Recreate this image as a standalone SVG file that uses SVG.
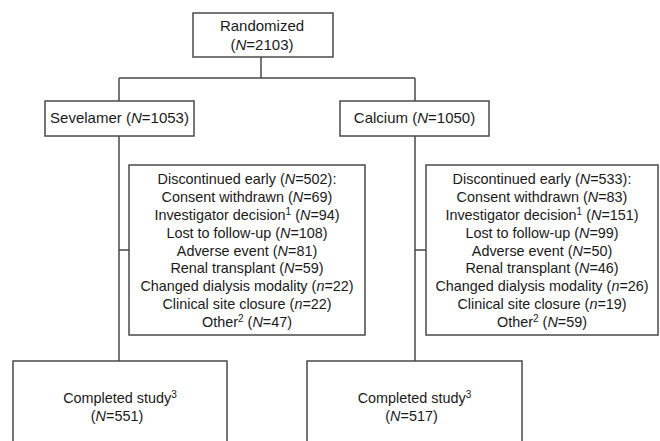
<svg xmlns="http://www.w3.org/2000/svg" width="660" height="441" viewBox="0 0 660 441">
<style>
.box{fill:#fff;stroke:#4a4a4a;stroke-width:1.5}
.ln{fill:none;stroke:#4a4a4a;stroke-width:1.5}
text{font-family:"Liberation Sans",Arial,sans-serif;font-size:14.4px;fill:#1a1a1a;text-anchor:middle}
.h{font-size:15px}
.i{font-style:italic}
.sup{font-size:10px}
</style>
<rect width="660" height="441" fill="#fff"/>
<g id="connectors">
<path class="ln" d="M261 57V78M119 78H415M119 78V101M415 78V101"/>
<path class="ln" d="M119 136V361M119 250H129"/>
<path class="ln" d="M415 136V361M415 250H426"/>
</g>
<g id="randomized">
<rect class="box" x="193" y="13" width="140" height="44"/>
<text class="h" x="262" y="31">Randomized</text>
<text class="h" x="262" y="50">(<tspan class="i">N</tspan>=2103)</text>
</g>
<g id="sevelamer">
<rect class="box" x="45" y="101" width="149" height="35"/>
<text class="h" x="119.5" y="123">Sevelamer (<tspan class="i">N</tspan>=1053)</text>
</g>
<g id="calcium">
<rect class="box" x="340" y="101" width="149" height="35"/>
<text class="h" x="414.5" y="123">Calcium (<tspan class="i">N</tspan>=1050)</text>
</g>
<g id="disc-sevelamer">
<rect class="box" x="129" y="165" width="236" height="170"/>
<text x="247" y="184.3">Discontinued early (<tspan class="i">N</tspan>=502):</text>
<text x="247" y="202.1">Consent withdrawn  (<tspan class="i">N</tspan>=69)</text>
<text x="247" y="219.9">Investigator decision<tspan class="sup" dy="-5">1</tspan><tspan dy="5"> (</tspan><tspan class="i">N</tspan>=94)</text>
<text x="247" y="237.7">Lost to follow-up (<tspan class="i">N</tspan>=108)</text>
<text x="247" y="255.5">Adverse event (<tspan class="i">N</tspan>=81)</text>
<text x="247" y="273.3">Renal transplant (<tspan class="i">N</tspan>=59)</text>
<text x="247" y="291.1">Changed dialysis modality (<tspan class="i">n</tspan>=22)</text>
<text x="247" y="308.9">Clinical site closure (<tspan class="i">n</tspan>=22)</text>
<text x="247" y="326.7">Other<tspan class="sup" dy="-5">2</tspan><tspan dy="5"> (</tspan><tspan class="i">N</tspan>=47)</text>
</g>
<g id="disc-calcium">
<rect class="box" x="426" y="165" width="232" height="170"/>
<text x="542" y="184.3">Discontinued early (<tspan class="i">N</tspan>=533):</text>
<text x="542" y="202.1">Consent withdrawn (<tspan class="i">N</tspan>=83)</text>
<text x="542" y="219.9">Investigator decision<tspan class="sup" dy="-5">1</tspan><tspan dy="5"> (</tspan><tspan class="i">N</tspan>=151)</text>
<text x="542" y="237.7">Lost to follow-up (<tspan class="i">N</tspan>=99)</text>
<text x="542" y="255.5">Adverse event (<tspan class="i">N</tspan>=50)</text>
<text x="542" y="273.3">Renal transplant (<tspan class="i">N</tspan>=46)</text>
<text x="542" y="291.1">Changed dialysis modality (<tspan class="i">n</tspan>=26)</text>
<text x="542" y="308.9">Clinical site closure (<tspan class="i">n</tspan>=19)</text>
<text x="542" y="326.7">Other<tspan class="sup" dy="-5">2</tspan><tspan dy="5"> (</tspan><tspan class="i">N</tspan>=59)</text>
</g>
<g id="completed-sevelamer">
<rect class="box" x="13" y="361" width="214" height="100"/>
<text x="120" y="403">Completed study<tspan class="sup" dy="-5">3</tspan></text>
<text x="117" y="421">(<tspan class="i">N</tspan>=551)</text>
</g>
<g id="completed-calcium">
<rect class="box" x="307" y="361" width="215" height="100"/>
<text x="414.5" y="403">Completed study<tspan class="sup" dy="-5">3</tspan></text>
<text x="411.5" y="421">(<tspan class="i">N</tspan>=517)</text>
</g>
</svg>
